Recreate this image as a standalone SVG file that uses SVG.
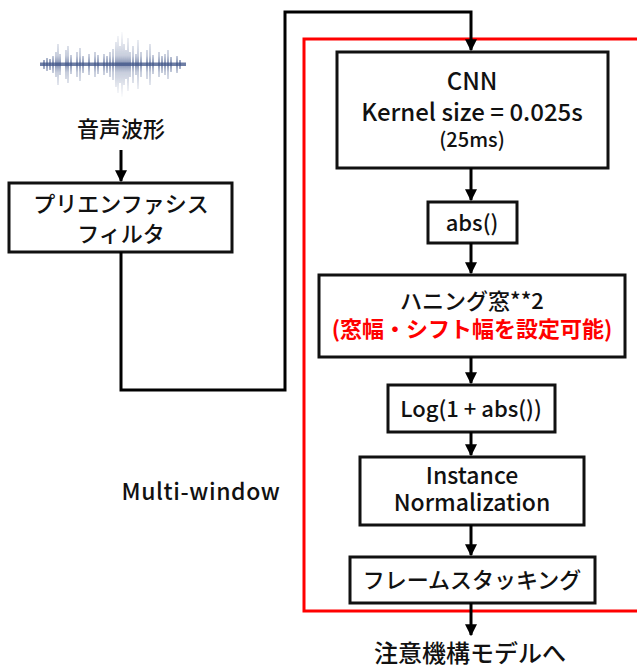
<svg xmlns="http://www.w3.org/2000/svg" width="637" height="668" viewBox="0 0 637 668">
  <style>
    text { font-family: "Noto Sans CJK JP", "Noto Sans", sans-serif; font-weight: 500; fill: #111; text-anchor: middle; }
    .box { fill: #fff; stroke: #111; stroke-width: 3; }
    .wire { fill: none; stroke: #000; stroke-width: 3; }
    .frame { fill: none; stroke: #ff0000; stroke-width: 3; }
    .red { fill: #ff0000; font-weight: bold; }
  </style>
  <defs>
    <marker id="arrow" viewBox="0 0 10 10" refX="9" refY="5" markerWidth="4" markerHeight="4" markerUnits="strokeWidth" orient="auto">
      <path d="M0,0 L10,5 L0,10 z" fill="#000"/>
    </marker>
    <linearGradient id="waveFade" gradientUnits="userSpaceOnUse" x1="0" y1="30" x2="0" y2="98">
      <stop offset="0" stop-color="#4d6190" stop-opacity="0"/>
      <stop offset="0.38" stop-color="#4d6190" stop-opacity="0.45"/>
      <stop offset="0.5" stop-color="#42578a" stop-opacity="0.95"/>
      <stop offset="0.62" stop-color="#4d6190" stop-opacity="0.45"/>
      <stop offset="1" stop-color="#4d6190" stop-opacity="0"/>
    </linearGradient>
    <filter id="soft" x="-10%" y="-10%" width="120%" height="120%">
      <feGaussianBlur stdDeviation="0.6"/>
    </filter>
  </defs>

  <!-- processing region outline -->
  <rect class="frame" x="304" y="39" width="345" height="572"/>

  <!-- audio waveform icon -->
  <g id="waveform" filter="url(#soft)">
    <rect x="40" y="62.5" width="146" height="3.5" fill="#4a5e8e" opacity="0.8"/>
    <path stroke="url(#waveFade)" stroke-width="1.4" fill="none" d="
      M44,60V69 M47,58V71 M50,59V70 M53,56V73 M56,52V77 M58,44V85 M60,54V75
      M66,50V79 M68,46V83 M71,55V74 M77,52V77 M80,48V81 M83,56V73
      M89,54V75 M95,52V77 M98,55V74 M104,54V75 M107,56V73
      M110,52V77 M113,49V80 M116,42V87 M118,36V93 M120,46V83 M122,32V97 M124,44V85 M126,50V79
      M128,38V91 M130,52V77 M133,46V83 M136,54V75 M138,40V89 M141,52V77 M147,50V79
      M150,44V85 M153,55V74 M159,52V77 M162,56V73 M165,54V75 M168,50V79 M171,57V72
      M177,56V73 M180,60V69"/>
  </g>
  <g id="waveform-label">
    <text x="121" y="137" font-size="22">音声波形</text>
  </g>

  <!-- nodes -->
  <g id="preemphasis">
    <rect class="box" x="9" y="183" width="223" height="69"/>
    <text x="121" y="212" font-size="22">プリエンファシス</text>
    <text x="121" y="242" font-size="22">フィルタ</text>
  </g>

  <g id="cnn">
    <rect class="box" x="337" y="52" width="271" height="116"/>
    <text x="472" y="90" font-size="24">CNN</text>
    <text x="472" y="121" font-size="24">Kernel size = 0.025s</text>
    <text x="472" y="147" font-size="20">(25ms)</text>
  </g>

  <g id="abs">
    <rect class="box" x="428" y="202" width="89" height="41"/>
    <text x="472" y="231" font-size="22">abs()</text>
  </g>

  <g id="hanning">
    <rect class="box" x="319" y="275" width="306" height="82"/>
    <text x="472" y="309" font-size="22">ハニング窓**2</text>
    <text class="red" x="472" y="337" font-size="22">(窓幅・シフト幅を設定可能)</text>
  </g>

  <g id="log">
    <rect class="box" x="388" y="385" width="167" height="47"/>
    <text x="471" y="417" font-size="22">Log(1 + abs())</text>
  </g>

  <g id="instance-norm">
    <rect class="box" x="360" y="457" width="224" height="68"/>
    <text x="472" y="484" font-size="23">Instance</text>
    <text x="472" y="511" font-size="23">Normalization</text>
  </g>

  <g id="frame-stacking">
    <rect class="box" x="350" y="557" width="245" height="46"/>
    <text x="472" y="588" font-size="22">フレームスタッキング</text>
  </g>

  <g id="multi-window-label">
    <text x="201" y="500" font-size="23" letter-spacing="0.6">Multi-window</text>
  </g>

  <g id="output-label">
    <text x="470" y="662" font-size="24">注意機構モデルへ</text>
  </g>

  <!-- connectors -->
  <g id="connectors">
    <path class="wire" d="M121,150 V181" marker-end="url(#arrow)"/>
    <path class="wire" d="M121,252 V390 H285 V12 H471 V50" marker-end="url(#arrow)"/>
    <path class="wire" d="M471,168 V200" marker-end="url(#arrow)"/>
    <path class="wire" d="M471,243 V273" marker-end="url(#arrow)"/>
    <path class="wire" d="M471,357 V383" marker-end="url(#arrow)"/>
    <path class="wire" d="M471,432 V455" marker-end="url(#arrow)"/>
    <path class="wire" d="M471,525 V555" marker-end="url(#arrow)"/>
    <path class="wire" d="M471,603 V635" marker-end="url(#arrow)"/>
  </g>
</svg>
